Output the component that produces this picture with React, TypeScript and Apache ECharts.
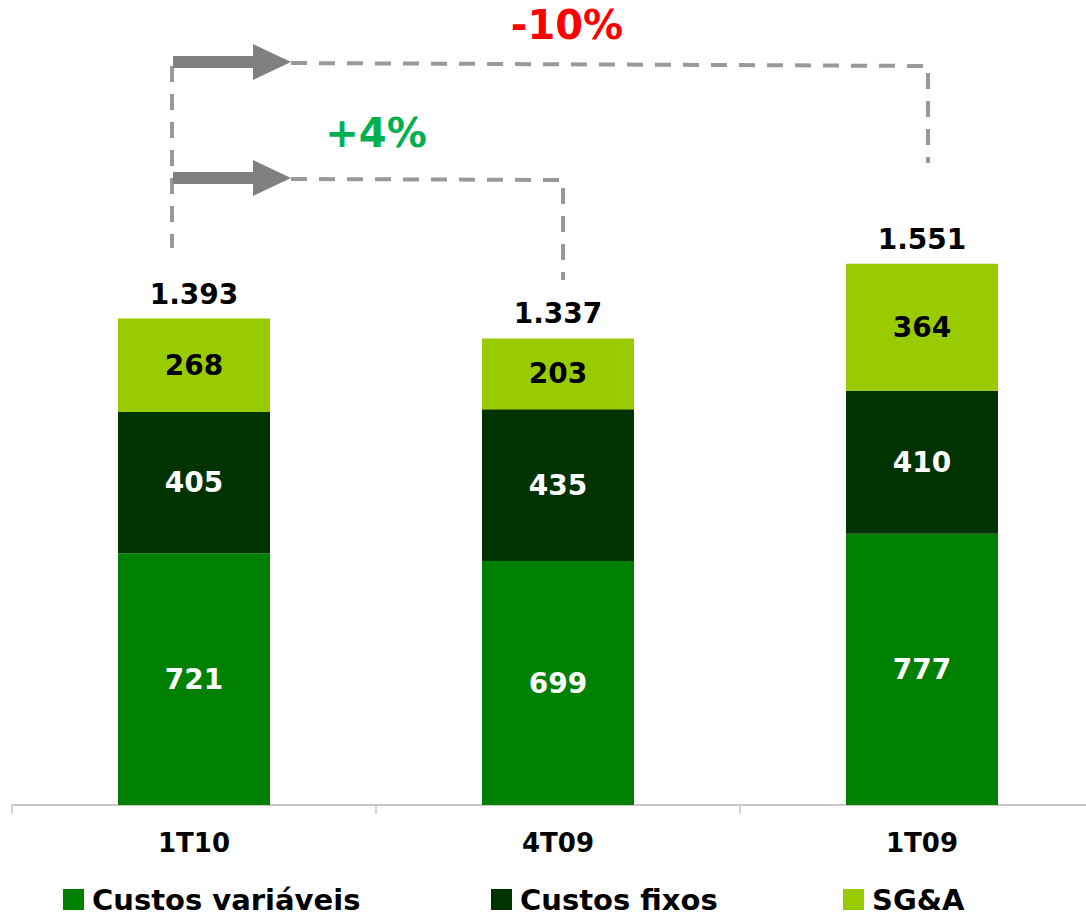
import React, { useEffect, useRef } from "react";
import * as echarts from "echarts";

const categories = ["1T10", "4T09", "1T09"];
const custosVariaveis = [721, 699, 777];
const custosFixos = [405, 435, 410];
const sga = [268, 203, 364];
const totals = [1393, 1337, 1551];
const totalLabels = ["1.393", "1.337", "1.551"];
const seriesNames = ["Custos variáveis", "Custos fixos", "SG&A"];
const colors = ["#008000", "#003300", "#99CC00"];
const changeLabels = ["-10%", "+4%"];

const FONT = "'DejaVu Sans', Verdana, sans-serif";

export default function App() {
  const ref = useRef<HTMLDivElement>(null);
  useEffect(() => {
    if (!ref.current) return;
    const chart = echarts.init(ref.current, null, { renderer: "svg" });
    const dashStyle = { stroke: "#999999", lineWidth: 4, lineDash: [16, 12], fill: null };
    const arrowStyle = { fill: "#808080" };
    const arrow = (y: number) => ({
      type: "polygon",
      shape: {
        points: [
          [173, y - 6],
          [253, y - 6],
          [253, y - 18],
          [291, y],
          [253, y + 18],
          [253, y + 6],
          [173, y + 6],
        ],
      },
      style: arrowStyle,
      z: 10,
    });
    const labelStyle = (color: string) => ({
      show: true,
      position: "inside",
      color,
      fontFamily: FONT,
      fontWeight: "bold",
      fontSize: 28,
    });
    const legend = (name: string, left: number) => ({
      data: [name],
      left,
      top: 880,
      icon: "rect",
      itemWidth: 21,
      itemHeight: 21,
      selectedMode: false,
      textStyle: {
        color: "#000",
        fontFamily: FONT,
        fontWeight: "bold",
        fontSize: 29,
        padding: [0, 0, 0, 3],
      },
    });
    chart.setOption({
      animation: false,
      grid: { left: 12, width: 1092, top: 107, height: 698 },
      xAxis: {
        type: "category",
        data: categories,
        axisLine: { lineStyle: { color: "#c8c8c8", width: 2 } },
        axisTick: { show: true, length: 9, lineStyle: { color: "#d4d4d4", width: 2 } },
        axisLabel: {
          color: "#000",
          fontFamily: FONT,
          fontWeight: "bold",
          fontSize: 26,
          margin: 25,
        },
      },
      yAxis: { type: "value", min: 0, max: 2000, show: false, splitLine: { show: false } },
      legend: [
        legend(seriesNames[0], 58),
        legend(seriesNames[1], 486),
        legend(seriesNames[2], 838),
      ],
      series: [
        {
          name: seriesNames[0],
          type: "bar",
          stack: "a",
          barWidth: 152,
          data: custosVariaveis,
          itemStyle: { color: colors[0] },
          label: labelStyle("#ffffff"),
        },
        {
          name: seriesNames[1],
          type: "bar",
          stack: "a",
          barWidth: 152,
          data: custosFixos,
          itemStyle: { color: colors[1] },
          label: labelStyle("#ffffff"),
        },
        {
          name: seriesNames[2],
          type: "bar",
          stack: "a",
          barWidth: 152,
          data: sga,
          itemStyle: { color: colors[2] },
          label: labelStyle("#000000"),
        },
        {
          name: "Total",
          type: "scatter",
          data: totals,
          symbolSize: 1,
          itemStyle: { color: "rgba(0,0,0,0)" },
          label: {
            show: true,
            position: "top",
            distance: 10,
            color: "#000000",
            opacity: 1,
            textBorderWidth: 0,
            fontFamily: FONT,
            fontWeight: "bold",
            fontSize: 28,
            formatter: (p: any) => totalLabels[p.dataIndex],
          },
        },
      ],
      graphic: [
        { type: "polyline", shape: { points: [[172, 66], [172, 248]] }, style: dashStyle },
        { type: "polyline", shape: { points: [[291, 63], [928, 66], [928, 163]] }, style: dashStyle },
        { type: "polyline", shape: { points: [[291, 179], [563, 180], [563, 280]] }, style: dashStyle },
        arrow(62),
        arrow(178),
        {
          type: "text",
          x: 567,
          y: 25,
          style: {
            text: changeLabels[0],
            fill: "#FF0000",
            font: `bold 40px ${FONT}`,
            align: "center",
            verticalAlign: "middle",
          },
        },
        {
          type: "text",
          x: 376,
          y: 133,
          style: {
            text: changeLabels[1],
            fill: "#00B050",
            font: `bold 40px ${FONT}`,
            align: "center",
            verticalAlign: "middle",
          },
        },
      ],
    });
    return () => chart.dispose();
  }, []);
  return (
    <div style={{ position: "absolute", left: 0, top: 0, width: 1086, height: 914, overflow: "hidden" }}>
      <div ref={ref} style={{ width: 1110, height: 914 }} />
    </div>
  );
}
